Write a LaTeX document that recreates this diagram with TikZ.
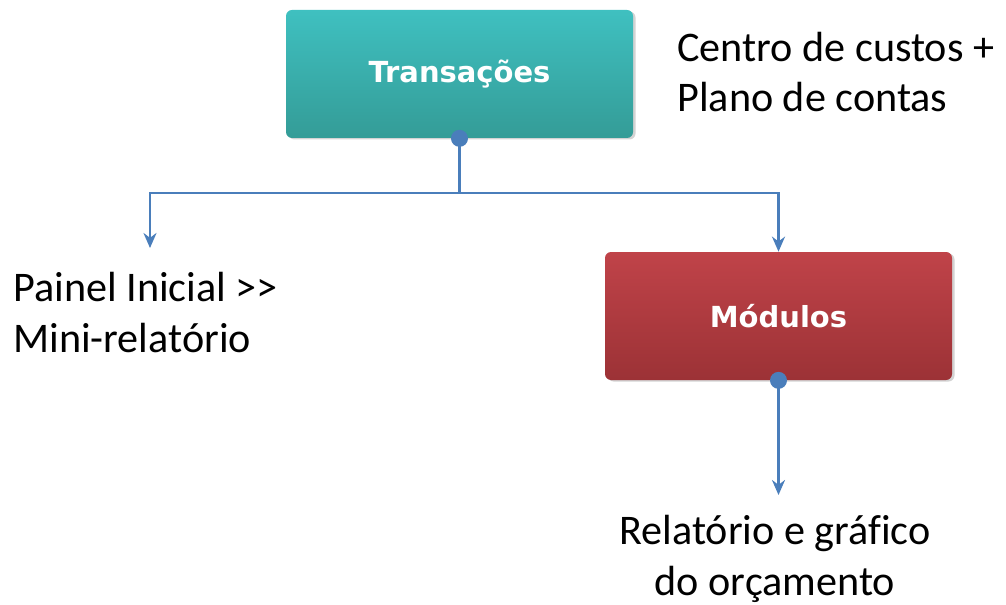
\documentclass[tikz,border=0pt]{standalone}
\usepackage{fontspec}
\setmainfont[Ligatures=CommonOff]{Carlito}
\newfontfamily\boxfont{DejaVu Sans}
\usetikzlibrary{arrows.meta,shadows}

\definecolor{linkblue}{HTML}{4A7EBB}
\definecolor{tealtop}{HTML}{3FC0C0}
\definecolor{tealbot}{HTML}{349C97}
\definecolor{redtop}{HTML}{C04349}
\definecolor{redbot}{HTML}{9C3236}

\tikzset{
  stepbox/.style={rounded corners=0.12cm, minimum width=6.94cm, minimum height=2.56cm,
    font=\boxfont\bfseries\fontsize{16.5}{20}\selectfont, text=white,
    drop shadow={opacity=0.35, shadow xshift=0.05cm, shadow yshift=-0.03cm}},
  note/.style={font=\fontsize{24}{28.5}\selectfont, inner sep=0pt},
  conn/.style={linkblue, line width=0.055cm, -{Stealth[length=0.3cm, width=0.26cm]}},
  dot/.style={circle, fill=linkblue, inner sep=0pt, minimum size=0.34cm}
}

\begin{document}
\begin{tikzpicture}

    \useasboundingbox (0,0) rectangle (20.12,-12.1);

    % boxes
    \node[stepbox, top color=tealtop, bottom color=tealbot] (trans) at (9.19,-1.48) {Transações};
    \node[stepbox, top color=redtop, bottom color=redbot] (modulos) at (15.57,-6.32) {Módulos};

    % texts
    \node[note, anchor=base west, align=left] (centro) at (13.54,-2.24) {Centro de custos +\\Plano de contas};
    \node[note, anchor=base west, align=left] (painel) at (0.26,-7.04) {Painel Inicial >{}>\\Mini-relatório};
    \node[note, anchor=base, align=center] (relatorio) at (15.5,-11.9) {Relatório e gráfico\\do orçamento};

    % connectors
    \coordinate (split) at (9.19,-3.86);
    \coordinate (painelend) at (3.0,-4.96);
    \coordinate (relend) at (15.57,-9.9);
    \draw[conn] (trans.south) -- (split) -| (painelend);
    \draw[conn] (split) -| (modulos.north);
    \draw[conn] (modulos.south) -- (relend);
    \node[dot] at (trans.south) {};
    \node[dot] at (modulos.south) {};

\end{tikzpicture}
\end{document}
